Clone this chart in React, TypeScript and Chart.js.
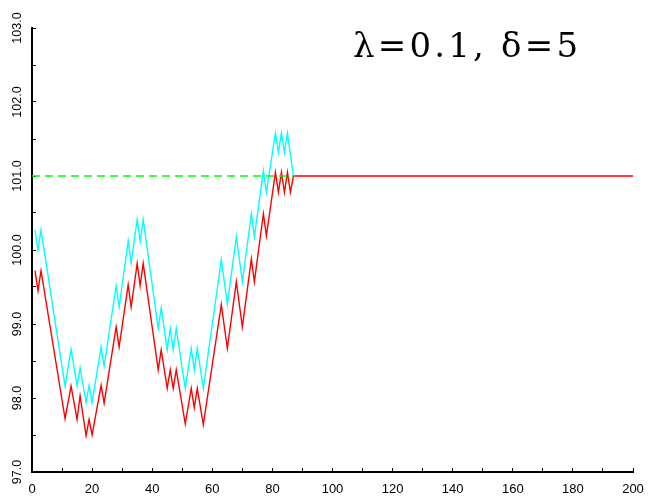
import React, { useEffect, useRef } from 'react';
import { Chart, registerables } from 'chart.js';

Chart.register(...registerables);

// Random-walk vertices (x = step index, y = value)
const redX = [1, 2, 3, 11, 13, 15, 16, 18, 19, 20, 23, 24, 28, 29, 32, 33, 35, 36, 37, 42, 43, 45, 46, 47, 48, 51, 53, 54, 55, 57, 63, 65, 68, 70, 73, 74, 77, 78, 81, 82, 83, 84, 85, 86, 87, 200];
const redY = [99.72, 99.45, 99.72, 97.72, 98.16, 97.71, 98.03, 97.49, 97.71, 97.5, 98.17, 97.93, 98.96, 98.69, 99.53, 99.23, 99.82, 99.52, 99.82, 98.38, 98.65, 98.13, 98.38, 98.13, 98.38, 97.65, 98.13, 97.87, 98.13, 97.64, 99.26, 98.67, 99.57, 98.96, 99.88, 99.57, 100.49, 100.19, 101.05, 100.78, 101.05, 100.78, 101.05, 100.78, 101.0, 101.0];

const cyanX = [1, 2, 3, 11, 13, 15, 16, 18, 19, 20, 23, 24, 28, 29, 32, 33, 35, 36, 37, 42, 43, 45, 46, 47, 48, 51, 53, 54, 55, 57, 63, 65, 68, 70, 73, 74, 77, 78, 81, 82, 83, 84, 85, 87];
const cyanY = [100.27, 100.0, 100.27, 98.16, 98.66, 98.16, 98.41, 97.94, 98.17, 97.94, 98.69, 98.43, 99.52, 99.23, 100.12, 99.83, 100.41, 100.12, 100.41, 98.94, 99.22, 98.65, 98.94, 98.65, 98.94, 98.13, 98.67, 98.38, 98.67, 98.13, 99.87, 99.27, 100.18, 99.57, 100.49, 100.18, 101.07, 100.78, 101.58, 101.32, 101.58, 101.32, 101.58, 101.0];

const refX = [0, 87];
const refY = [101, 101];

const xMin = 0;
const xMax = 200;
const xTickStep = 10;
const xLabelStep = 20;
const yMin = 97;
const yMax = 103;
const yTickStep = 0.5;

const titleText = 'λ=0.1, δ=5';

const toPts = (xs: number[], ys: number[]) => xs.map((x, i) => ({ x, y: ys[i] }));

export default function App() {
  const ref = useRef<HTMLCanvasElement | null>(null);

  useEffect(() => {
    document.body.style.margin = '0';
    document.body.style.overflow = 'hidden';
    const canvas = ref.current;
    if (!canvas) return;

    const titlePlugin = {
      id: 'cornerTitle',
      afterDraw(chart: any) {
        const ctx = chart.ctx as any;
        ctx.save();
        ctx.font = '34px "DejaVu Serif"';
        ctx.fillStyle = '#000';
        ctx.textAlign = 'left';
        ctx.textBaseline = 'alphabetic';
        try { ctx.letterSpacing = '3.2px'; } catch (e) { /* ignore */ }
        ctx.fillText(titleText, 353, 57);
        ctx.restore();
      },
    };

    const lineDs = (data: any, color: string, extra: any = {}) => ({
      data,
      borderColor: color,
      backgroundColor: color,
      borderWidth: 1.4,
      showLine: true,
      pointRadius: 0,
      pointHoverRadius: 0,
      fill: false,
      tension: 0,
      ...extra,
    });

    const tickFont = { family: '"Liberation Sans", Arial, sans-serif', size: 13 };
    const yFont = { family: '"Liberation Sans Narrow", "Liberation Sans", Arial, sans-serif', size: 12.5 };

    const chart = new Chart(canvas, {
      type: 'scatter',
      data: {
        datasets: [
          lineDs(toPts(refX, refY), '#00ff00', { borderDash: [8, 5] }),
          lineDs(toPts(cyanX, cyanY), '#00ffff'),
          lineDs(toPts(redX, redY), '#ff0000'),
        ],
      },
      options: {
        animation: false,
        responsive: false,
        devicePixelRatio: 1,
        events: [],
        layout: { padding: { top: 28, right: 17, left: 0, bottom: 0 } },
        plugins: {
          legend: { display: false },
          tooltip: { enabled: false },
          title: { display: false },
        },
        scales: {
          x: {
            type: 'linear',
            position: 'bottom',
            min: xMin,
            max: xMax,
            afterFit: (s: any) => { s.height = 28; s.paddingLeft = 0; s.paddingRight = 0; },
            ticks: {
              stepSize: xTickStep,
              autoSkip: false,
              minRotation: 0,
              maxRotation: 0,
              padding: 13.5,
              color: '#000',
              font: tickFont,
              callback: (v: any) => (Number(v) % xLabelStep === 0 ? String(v) : ''),
            },
            grid: { drawOnChartArea: false, drawTicks: true, tickLength: -4, tickColor: '#000', tickWidth: 1 },
            border: { display: true, color: '#000', width: 2 },
          },
          y: {
            type: 'linear',
            min: yMin,
            max: yMax,
            afterFit: (s: any) => { s.width = 32; s.paddingTop = 0; s.paddingBottom = 0; },
            ticks: {
              stepSize: yTickStep,
              autoSkip: false,
              minRotation: 90,
              maxRotation: 90,
              crossAlign: 'center',
              padding: 3,
              color: '#000',
              font: yFont,
              callback: (v: any) => (Number.isInteger(Number(v)) ? Number(v).toFixed(1) : ''),
            },
            grid: { drawOnChartArea: false, drawTicks: true, tickLength: -4, tickColor: '#000', tickWidth: 1 },
            border: { display: true, color: '#000', width: 2 },
          },
        },
      } as any,
      plugins: [titlePlugin],
    });

    return () => chart.destroy();
  }, []);

  return (
    <div style={{ width: 650, height: 500, background: '#fff' }}>
      <canvas ref={ref} width={650} height={500} style={{ display: 'block' }} />
    </div>
  );
}
